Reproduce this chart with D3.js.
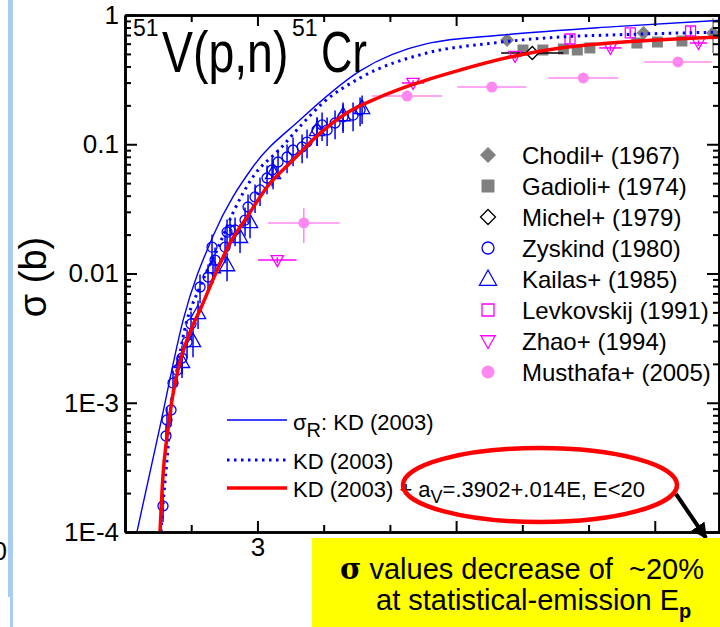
<!DOCTYPE html>
<html><head><meta charset="utf-8">
<script src="https://cdn.jsdelivr.net/npm/d3@7"></script>
<style>
html,body{margin:0;padding:0;background:#fff;overflow:hidden;}
svg{display:block;}
text{font-family:"Liberation Sans", Arial, Helvetica, sans-serif;fill:#000;white-space:pre;}
</style></head>
<body>
<svg id="c" width="720" height="627"></svg>
<script>
// ---------------- data ----------------
const xDomain = [1, 10];
const yDomain = [1e-4, 1];
const xTickValues = [3, 6, 9];
const xTickLabels = ["3", "", ""];          // 6 and 9 are hidden under the yellow box in the original
const yTickValues = [1e-4, 1e-3, 0.01, 0.1, 1];
const yTickLabels = ["1E-4", "1E-3", "0.01", "0.1", "1"];

// theoretical curves [E (MeV), sigma (b)]
const sigmaR_KD2003 = [[1.18,1e-4],[1.53,6.6e-4],[1.88,4.4e-3],[2.33,0.0195],[2.93,0.0667],[3.64,0.154],[4.55,0.37],[5.56,0.60],[6.71,0.70],[8.33,0.81],[10,0.91]];
const KD2003 = [[1.544,1e-4],[1.574,1.62e-4],[1.634,3.6e-4],[1.695,8.8e-4],[1.785,1.79e-3],[1.90,3.66e-3],[2.133,7.9e-3],[2.39,0.0152],[2.63,0.0294],[2.93,0.0558],[3.34,0.092],[3.69,0.146],[3.99,0.209],[4.55,0.326],[5.56,0.508],[6.56,0.607],[7.57,0.676],[8.33,0.70],[10,0.738]];
const KD2003_aV = [[1.529,1e-4],[1.574,2.76e-4],[1.634,5.43e-4],[1.71,1.05e-3],[1.80,1.79e-3],[2.027,4.0e-3],[2.133,5.22e-3],[2.39,0.0106],[2.586,0.0172],[2.843,0.0274],[3.145,0.0467],[3.538,0.0755],[3.946,0.122],[4.353,0.175],[4.852,0.232],[5.305,0.285],[6.06,0.375],[6.816,0.473],[7.571,0.556],[8.33,0.607],[10,0.676]];

// experimental data: E, sigma, dE (abs), dS (relative)
const chodil = [[6.77,0.641,0,0.05],[8.83,0.726,0,0.05],[9.88,0.726,0,0.3]];
const gadioli = [[7.01,0.536,0,0],[7.31,0.536,0,0],[7.62,0.546,0,0],[7.83,0.536,0,0],[8.02,0.556,0,0],[8.73,0.607,0,0],[9.04,0.618,0,0],[9.41,0.629,0,0]];
const michel = [[7.15,0.508,0.47,0.1]];
const zyskind = [[1.574,1.59e-4],[1.619,5.53e-4],[1.634,7.36e-4],[1.695,8.79e-4],[1.725,1.42e-3],[1.786,1.79e-3],[1.861,2.22e-3],[1.937,2.95e-3],[1.997,4.07e-3],[2.133,7.86e-3],[2.254,9.39e-3],[2.314,0.016],[2.36,0.0127],[2.511,0.016],[2.541,0.0209],[2.586,0.0217],[2.662,0.0217],[2.813,0.0259],[2.858,0.0327],[2.964,0.0391],[3.039,0.0443],[3.145,0.0548],[3.221,0.0632],[3.311,0.0729],[3.447,0.0797],[3.538,0.0903],[3.674,0.0952],[3.749,0.104],[3.9,0.129],[3.976,0.141],[4.052,0.129],[4.172,0.146],[4.293,0.163],[4.444,0.168],[4.55,0.184]];
const zyskindErr = 0.25;
const kailas = [[1.861,2.07e-3],[2.027,3.0e-3],[2.103,4.95e-3],[2.329,0.0112],[2.541,0.0116],[2.737,0.0192],[2.888,0.025],[3.236,0.0599],[3.9,0.129],[4.293,0.168],[4.58,0.191]];
const kailasErr = 0.25;
const levkovskij = [[7.72,0.652,0,0.08],[8.63,0.726,0,0.08],[9.54,0.752,0,0.08]];
const zhao = [[3.30,0.0127,0.29,0.05],[5.35,0.298,0.17,0.05],[6.89,0.482,0.1,0.05],[8.33,0.556,0.17,0.05],[9.66,0.607,0.13,0.05]];
const musthafa = [[3.70,0.0246,0.54,0.3],[5.26,0.236,0.53,0.04],[6.54,0.277,0.52,0.04],[7.92,0.326,0.53,0.04],[9.35,0.433,0.51,0.04]];

const legendLabels = ["Chodil+ (1967)","Gadioli+ (1974)","Michel+ (1979)","Zyskind (1980)","Kailas+ (1985)","Levkovskij (1991)","Zhao+ (1994)","Musthafa+ (2005)"];

// ---------------- drawing ----------------
const svg = d3.select("#c");
const L = 125, R = 721, T = 15, B = 532;
const x = d3.scaleLinear().domain(xDomain).range([L, R]);
const y = d3.scaleLog().domain(yDomain).range([B, T]);

const BLUE = "#0000ff", RED = "#ff0000", GRAY = "#808080", MAG = "#ff00ff", PINK = "#ff88f0";

// left blue bar of neighbouring panel
svg.append("rect").attr("x", 8).attr("y", 0).attr("width", 5).attr("height", 597).attr("fill", "#a8ccf4");
svg.append("rect").attr("x", 10).attr("y", 597).attr("width", 3).attr("height", 30).attr("fill", "#a8ccf4");
svg.append("text").attr("x", 7).attr("y", 560).attr("text-anchor", "end").attr("font-size", 26).text("0");

svg.append("defs").append("clipPath").attr("id", "plotclip")
  .append("rect").attr("x", L).attr("y", T).attr("width", R - L).attr("height", B - T);
const plot = svg.append("g").attr("clip-path", "url(#plotclip)");

const shapes = {
  diamond: h => `M0,${-h}L${h},0L0,${h}L${-h},0Z`,
  square: h => `M${-h},${-h}H${h}V${h}H${-h}Z`,
  triUp: h => `M0,${-h}L${h*0.95},${h*0.7}L${-h*0.95},${h*0.7}Z`,
  triDown: h => `M0,${h}L${h*0.95},${-h*0.7}L${-h*0.95},${-h*0.7}Z`,
  circle: h => d3.arc()({innerRadius:0, outerRadius:h, startAngle:0, endAngle:2*Math.PI})
};
const series = [
  {data: chodil, shape: "diamond", h: 7, fill: GRAY, stroke: "none", bar: GRAY},
  {data: gadioli, shape: "square", h: 5.5, fill: GRAY, stroke: "none", bar: GRAY},
  {data: michel, shape: "diamond", h: 6.5, fill: "#fff", stroke: "#000", bar: "#000"},
  {data: zyskind.map(d => [d[0], d[1], 0, zyskindErr]), shape: "circle", h: 5, fill: "none", stroke: BLUE, bar: BLUE},
  {data: kailas.map(d => [d[0], d[1], 0, kailasErr]), shape: "triUp", h: 8, fill: "none", stroke: BLUE, bar: BLUE},
  {data: levkovskij, shape: "square", h: 5, fill: "none", stroke: MAG, bar: MAG},
  {data: zhao, shape: "triDown", h: 6.5, fill: "none", stroke: MAG, bar: MAG},
  {data: musthafa, shape: "circle", h: 5.5, fill: PINK, stroke: "none", bar: PINK}
];

series.forEach(s => {
  const g = plot.append("g");
  s.data.forEach(d => {
    const [E, S, dE, dS] = d;
    if (dE > 0) g.append("line").attr("x1", x(E - dE)).attr("x2", x(E + dE)).attr("y1", y(S)).attr("y2", y(S)).attr("stroke", s.bar).attr("stroke-width", 1.5);
    if (dS > 0) g.append("line").attr("x1", x(E)).attr("x2", x(E)).attr("y1", y(S * (1 - dS))).attr("y2", y(S * (1 + dS))).attr("stroke", s.bar).attr("stroke-width", 1.5);
    g.append("path").attr("d", shapes[s.shape](s.h)).attr("transform", `translate(${x(E)},${y(S)})`)
      .attr("fill", s.fill).attr("stroke", s.stroke).attr("stroke-width", 1.3);
  });
});

const line = d3.line().x(d => x(d[0])).y(d => y(d[1])).curve(d3.curveMonotoneX);
plot.append("path").attr("d", line(sigmaR_KD2003)).attr("fill", "none").attr("stroke", BLUE).attr("stroke-width", 1.4);
plot.append("path").attr("d", line(KD2003)).attr("fill", "none").attr("stroke", BLUE).attr("stroke-width", 3).attr("stroke-dasharray", "2.5,4.5");
plot.append("path").attr("d", line(KD2003_aV)).attr("fill", "none").attr("stroke", RED).attr("stroke-width", 3.5);

// ---------------- axes ----------------
const minorY = y.ticks().filter(v => yTickValues.indexOf(v) < 0 && v < 1);
const minorX = d3.range(2, 10).filter(v => xTickValues.indexOf(v) < 0);
function styleAxis(g) {
  g.selectAll("path.domain").attr("stroke", "#000").attr("stroke-width", 2.6);
  g.selectAll(".tick line").attr("stroke", "#000").attr("stroke-width", 2);
  g.selectAll(".tick text").attr("font-size", 26).attr("font-family", '"Liberation Sans", Arial, sans-serif');
}
// bottom
svg.append("g").attr("transform", `translate(0,${B})`)
  .call(d3.axisBottom(x).tickValues(minorX).tickSize(-7).tickSizeOuter(0).tickFormat("")).call(styleAxis);
svg.append("g").attr("transform", `translate(0,${B})`)
  .call(d3.axisBottom(x).tickValues(xTickValues).tickSize(-11).tickSizeOuter(0).tickPadding(6).tickFormat((d,i) => xTickLabels[i])).call(styleAxis);
// top
svg.append("g").attr("transform", `translate(0,${T})`)
  .call(d3.axisTop(x).tickValues(minorX).tickSize(-7).tickSizeOuter(0).tickFormat("")).call(styleAxis);
svg.append("g").attr("transform", `translate(0,${T})`)
  .call(d3.axisTop(x).tickValues(xTickValues).tickSize(-11).tickSizeOuter(0).tickFormat("")).call(styleAxis);
// left
svg.append("g").attr("transform", `translate(${L},0)`)
  .call(d3.axisLeft(y).tickValues(minorY).tickSize(-6).tickSizeOuter(0).tickFormat("")).call(styleAxis);
svg.append("g").attr("transform", `translate(${L},0)`)
  .call(d3.axisLeft(y).tickValues(yTickValues).tickSize(-12).tickSizeOuter(0).tickPadding(6).tickFormat((d,i) => yTickLabels[i])).call(styleAxis);
// right
svg.append("g").attr("transform", `translate(${R - 2},0)`)
  .call(d3.axisRight(y).tickValues(minorY).tickSize(-6).tickSizeOuter(0).tickFormat("")).call(styleAxis);
svg.append("g").attr("transform", `translate(${R - 2},0)`)
  .call(d3.axisRight(y).tickValues(yTickValues).tickSize(-12).tickSizeOuter(0).tickFormat("")).call(styleAxis);

// y label
svg.append("text").attr("transform", "translate(46,277) rotate(-90)").attr("text-anchor", "middle").attr("font-size", 38).text("σ (b)");

// title (condensed glyphs)
svg.append("text").attr("x", 133).attr("y", 36).attr("font-size", 23).text("51");
svg.append("text").attr("transform", "translate(162,72) scale(0.80,1)").attr("font-size", 58).text("V(p,n)");
svg.append("text").attr("x", 292).attr("y", 36).attr("font-size", 23).text("51");
svg.append("text").attr("transform", "translate(321,72) scale(0.75,1)").attr("font-size", 58).text("Cr");

// legend (experimental)
const legX = 488, legTX = 522, legY0 = 155, legDY = 31;
series.forEach((s, i) => {
  const cy = legY0 + i * legDY;
  svg.append("path").attr("d", shapes[s.shape](s.h + 1)).attr("transform", `translate(${legX},${cy})`)
    .attr("fill", s.fill === "#fff" ? "none" : s.fill).attr("stroke", s.stroke).attr("stroke-width", 1.3);
  svg.append("text").attr("x", legTX).attr("y", cy + 9).attr("font-size", 24).text(legendLabels[i]);
});

// legend (calculations)
const lg = svg.append("g");
lg.append("line").attr("x1", 227).attr("x2", 287).attr("y1", 420).attr("y2", 420).attr("stroke", BLUE).attr("stroke-width", 1.4);
lg.append("line").attr("x1", 227).attr("x2", 287).attr("y1", 460).attr("y2", 460).attr("stroke", BLUE).attr("stroke-width", 3).attr("stroke-dasharray", "2.5,4.5");
lg.append("line").attr("x1", 227).attr("x2", 287).attr("y1", 488).attr("y2", 488).attr("stroke", RED).attr("stroke-width", 3.5);
const t1 = lg.append("text").attr("x", 293).attr("y", 430).attr("font-size", 22);
t1.append("tspan").text("σ");
t1.append("tspan").attr("dy", 7).attr("font-size", 20).text("R");
t1.append("tspan").attr("dy", -7).text(": KD (2003)");
lg.append("text").attr("x", 293).attr("y", 469).attr("font-size", 22).text("KD (2003)");
const t3 = lg.append("text").attr("x", 293).attr("y", 497).attr("font-size", 22);
t3.append("tspan").text("KD (2003) + a");
t3.append("tspan").attr("dy", 6).attr("font-size", 18).text("V");
t3.append("tspan").attr("dy", -6).text("=.3902+.014E, E<20");

// annotation ellipse and arrow
svg.append("ellipse").attr("cx", 540).attr("cy", 485).attr("rx", 137).attr("ry", 37)
  .attr("fill", "none").attr("stroke", RED).attr("stroke-width", 4.5);
svg.append("defs").append("marker").attr("id", "ah").attr("viewBox", "0 0 10 10").attr("refX", 9).attr("refY", 5)
  .attr("markerWidth", 4).attr("markerHeight", 4).attr("orient", "auto")
  .append("path").attr("d", "M0,0L10,5L0,10Z").attr("fill", "#000");
svg.append("line").attr("x1", 676).attr("y1", 494).attr("x2", 706).attr("y2", 538)
  .attr("stroke", "#000").attr("stroke-width", 4).attr("marker-end", "url(#ah)");

// yellow box
svg.append("rect").attr("x", 312).attr("y", 538).attr("width", 408).attr("height", 89).attr("fill", "#ffff00");
const b1 = svg.append("text").attr("x", 340).attr("y", 579).attr("font-size", 29);
b1.append("tspan").attr("font-weight", "bold").attr("font-family", "'DejaVu Serif', serif").text("σ");
b1.append("tspan").text(" values decrease of  ~20%");
const b2 = svg.append("text").attr("x", 376).attr("y", 610).attr("font-size", 29);
b2.append("tspan").text("at statistical-emission E");
b2.append("tspan").attr("dy", 8).attr("font-size", 20).attr("font-weight", "bold").text("p");
</script>
</body></html>
